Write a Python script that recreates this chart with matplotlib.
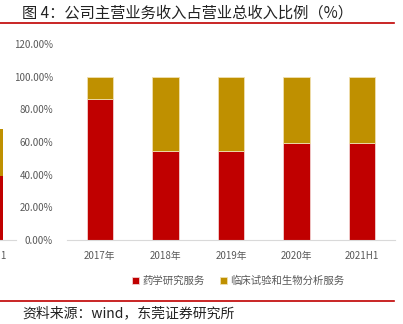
import matplotlib
matplotlib.use('Agg')
import matplotlib.pyplot as plt
from matplotlib.lines import Line2D
from matplotlib.ticker import PercentFormatter

plt.rcParams['font.family'] = ['Noto Sans CJK SC', 'DejaVu Sans']

# Revenue share by business line (%)
years = ['2017年', '2018年', '2019年', '2020年', '2021H1']
pharma_research = [86.5, 54.3, 54.7, 59.4, 59.4]
clinical_bio = [13.5, 45.7, 45.3, 40.6, 40.1]
series_names = ['药学研究服务', '临床试验和生物分析服务']

# tail of the neighbouring chart on the left
prev_label = ['2021H1']
prev_red = [39.0]
prev_gold = [29.0]

red = '#C00000'
gold = '#BF9000'
gray = '#595959'

W, H = 403, 324
fig = plt.figure(figsize=(W / 100, H / 100), dpi=100)

def box(x0, y_top, x1, y_bot):
    return [x0 / W, 1 - y_bot / H, (x1 - x0) / W, (y_bot - y_top) / H]

ax = fig.add_axes(box(67, 44, 395, 240))
x = range(len(years))
ax.bar(x, pharma_research, width=0.4, color=red, edgecolor='#f2d0d0', linewidth=0.6,
       label=series_names[0])
ax.bar(x, clinical_bio, width=0.4, bottom=pharma_research, color=gold,
       edgecolor='#f0e0b0', linewidth=0.6, label=series_names[1])
ax.set_xlim(-0.5, len(years) - 0.5)
ax.set_ylim(0, 120)
ax.set_yticks(range(0, 121, 20))
ax.yaxis.set_major_formatter(PercentFormatter(decimals=2))
ax.set_xticks(list(x))
ax.set_xticklabels(years)
ax.tick_params(length=0, labelsize=7, colors=gray)
ax.tick_params(axis='x', pad=8)
ax.tick_params(axis='y', pad=10)
for s in ['top', 'right', 'left']:
    ax.spines[s].set_visible(False)
ax.spines['bottom'].set_color('#d9d9d9')

# neighbouring chart, mostly cut off
ax0 = fig.add_axes(box(-43, 44, 16, 240))
ax0.bar([0], prev_red, width=0.4, color=red)
ax0.bar([0], prev_gold, width=0.4, bottom=prev_red, color=gold)
ax0.set_xlim(-0.5, 0.39)
ax0.set_ylim(0, 120)
ax0.set_yticks([])
ax0.set_xticks([0])
ax0.set_xticklabels(prev_label)
ax0.tick_params(length=0, labelsize=7, colors=gray, pad=8)
for s in ['top', 'right', 'left']:
    ax0.spines[s].set_visible(False)
ax0.spines['bottom'].set_color('#d9d9d9')

fig.legend(*ax.get_legend_handles_labels(), loc='center', ncol=2,
           bbox_to_anchor=(238 / W, 1 - 281 / H), frameon=False,
           fontsize=7.5, labelcolor=gray, handlelength=0.7, handleheight=0.7,
           handletextpad=0.3, columnspacing=1.5)

# header and footer
fig.text(22 / W, 1 - 13 / H, '图 4：公司主营业务收入占营业总收入比例（%）',
         fontsize=11, va='center', ha='left', color='#222222')
fig.add_artist(Line2D([0, 394 / W], [1 - 23 / H] * 2, color=red, lw=1.2))
fig.add_artist(Line2D([0, 394 / W], [1 - 301 / H] * 2, color=red, lw=1.2))
fig.text(22 / W, 1 - 313 / H, '资料来源：wind，东莞证券研究所',
         fontsize=10, va='center', ha='left', color='#222222')

fig.savefig('out.png', dpi=100)
